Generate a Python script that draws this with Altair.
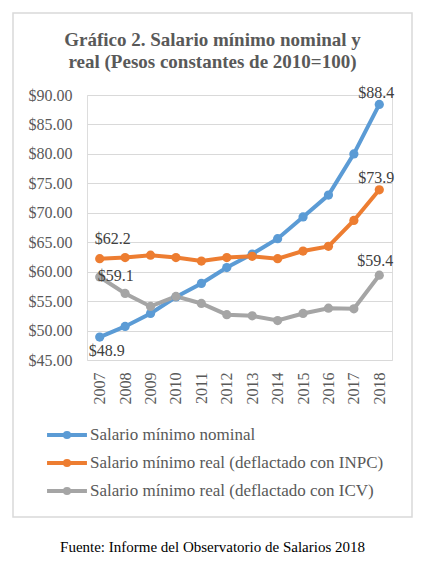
import altair as alt
import pandas as pd

years = ["2007", "2008", "2009", "2010", "2011", "2012", "2013", "2014", "2015", "2016", "2017", "2018"]
nominal = [48.9, 50.7, 52.9, 55.7, 58.0, 60.7, 63.0, 65.6, 69.3, 73.0, 80.0, 88.4]
inpc = [62.2, 62.4, 62.8, 62.4, 61.8, 62.4, 62.6, 62.2, 63.5, 64.3, 68.7, 73.9]
icv = [59.1, 56.3, 54.1, 55.8, 54.6, 52.7, 52.5, 51.7, 52.9, 53.8, 53.7, 59.4]
y_ticks = [45, 50, 55, 60, 65, 70, 75, 80, 85, 90]

series_names = [
    "Salario mínimo nominal",
    "Salario mínimo real (deflactado con INPC)",
    "Salario mínimo real (deflactado con ICV)",
]
series_colors = ["#5B9BD5", "#ED7D31", "#A5A5A5"]
title_lines = ["Gráfico 2. Salario mínimo nominal y", "real (Pesos constantes de 2010=100)"]
source_text = "Fuente: Informe del Observatorio de Salarios 2018"

rows = []
for name, vals in zip(series_names, [nominal, inpc, icv]):
    for y, v in zip(years, vals):
        rows.append({"Año": y, "Serie": name, "Valor": v})
df = pd.DataFrame(rows)

FONT = "Liberation Serif"
W, H = 305, 265

x_axis = alt.Axis(title=None, labelAngle=-90, labelFont=FONT, labelFontSize=16,
                  labelColor="#595959", domain=False, ticks=False, labelPadding=12,
                  labelAlign="right", labelBaseline="middle", labelOverlap=False)
y_axis = alt.Axis(title=None, values=y_ticks, format="$.2f",
                  labelFont=FONT, labelFontSize=16, labelColor="#595959",
                  domain=False, ticks=False, labelPadding=15, labelOverlap=False,
                  grid=True, gridColor="#D9D9D9", gridWidth=1)
x_scale = alt.Scale(type="point", padding=0.5)
y_scale = alt.Scale(domain=[45, 90], nice=False, zero=False)

def xe():
    return alt.X("Año:O", scale=x_scale, axis=x_axis)

def ye():
    return alt.Y("Valor:Q", scale=y_scale, axis=y_axis)

legend_path = "M-1.33,0 L1.33,0 M0.14,0 A0.14,0.14 0 1,1 -0.14,0 A0.14,0.14 0 1,1 0.14,0 Z"

lines = alt.Chart(df).mark_line(
    strokeWidth=4,
    point=alt.OverlayMarkDef(filled=True, size=85, opacity=1),
).encode(
    x=xe(),
    y=ye(),
    color=alt.Color("Serie:N",
                    scale=alt.Scale(domain=series_names, range=series_colors),
                    sort=series_names,
                    legend=alt.Legend(title=None, orient="none", legendX=-37, legendY=323,
                                      direction="vertical", symbolType=legend_path,
                                      symbolSize=900, symbolStrokeWidth=4,
                                      labelFont=FONT, labelFontSize=17, labelColor="#595959",
                                      labelOffset=6, labelLimit=0, rowPadding=0)),
)

def label(series, year, dx, dy):
    return alt.Chart(df).transform_filter(
        (alt.datum.Serie == series) & (alt.datum["Año"] == year)
    ).mark_text(font=FONT, fontSize=16, color="#404040", dx=dx, dy=dy, baseline="middle").encode(
        x=xe(), y=ye(), text=alt.Text("Valor:Q", format="$.1f")
    )

labels = [
    label(series_names[0], years[-1], -3, -11),
    label(series_names[1], years[-1], -3, -12),
    label(series_names[2], years[-1], -4, -14),
    label(series_names[1], years[0], 13, -20),
    label(series_names[2], years[0], 16, -1),
    label(series_names[0], years[0], 7, 14),
]

one = alt.Data(values=[{"a": 1}])

frame = alt.Chart(one).mark_rect(
    fill="transparent", stroke="#D9D9D9", strokeWidth=1.5
).encode(x=alt.value(-74), x2=alt.value(325), y=alt.value(-82), y2=alt.value(422))

title = alt.Chart(one).mark_text(
    font=FONT, fontSize=19, fontWeight="bold", color="#595959", align="center",
    baseline="alphabetic", lineHeight=22
).encode(x=alt.value(125.5), y=alt.value(-49), text=alt.value(title_lines))

source = alt.Chart(one).mark_text(
    font=FONT, fontSize=15, color="#000000", align="center", baseline="middle"
).encode(x=alt.value(125.5), y=alt.value(452), text=alt.value(source_text))

chart = alt.layer(frame, lines, *labels, title, source).properties(
    width=W, height=H,
    autosize=alt.AutoSizeParams(type="none"),
    padding={"left": 87, "top": 95, "right": 34, "bottom": 206},
).configure_view(stroke=None).configure(background="white")

chart.save("out.html", embed_options={"renderer": "svg", "actions": False})
